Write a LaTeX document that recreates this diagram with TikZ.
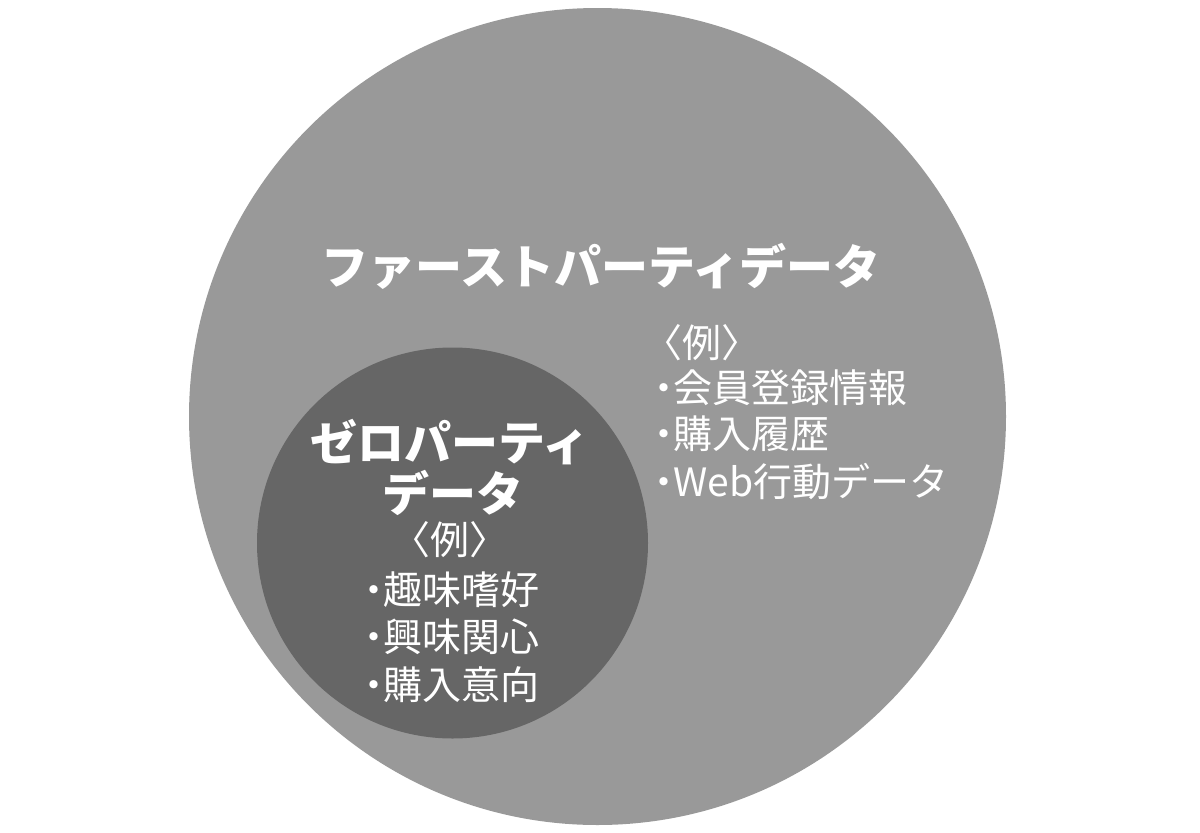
\documentclass[tikz,border=0pt]{standalone}
\usepackage{fontspec}
\setmainfont{Noto Sans CJK JP}
\definecolor{outergray}{HTML}{999999}
\definecolor{innergray}{HTML}{666666}
\newcommand{\bdot}{\makebox[0.46em][c]{・}}
\begin{document}
\begin{tikzpicture}[x=1pt,y=-1pt,
  titletext/.style={text=white,inner sep=0pt,font=\fontsize{47}{47}\selectfont\bfseries},
  bodytext/.style={text=white,inner sep=0pt,font=\fontsize{39}{39}\selectfont},
]
\useasboundingbox (0,0) rectangle (1200,833);
\fill[outergray] (597.5,416.5) circle[radius=408.5];
\fill[innergray] (452.5,543) circle[radius=195.5];
% outer title
\node[titletext] (ftitle) at (601,266) {ファーストパーティデータ};
\node[bodytext,anchor=west] (fex) at (643,343) {〈例〉};
\node[bodytext,anchor=west] (f1) at (655,388) {\bdot 会員登録情報};
\node[bodytext,anchor=west] (f2) at (655,434) {\bdot 購入履歴};
\node[bodytext,anchor=west] (f3) at (655,482) {\bdot Web行動データ};
% inner
\node[titletext] (ztitle1) at (450,442) {ゼロパーティ};
\node[titletext] (ztitle2) at (453,493) {データ};
\node[bodytext] (zex) at (450,540) {〈例〉};
\node[bodytext] (z1) at (452,590) {\bdot 趣味嗜好};
\node[bodytext] (z2) at (452,637) {\bdot 興味関心};
\node[bodytext] (z3) at (452,685) {\bdot 購入意向};
\end{tikzpicture}
\end{document}
